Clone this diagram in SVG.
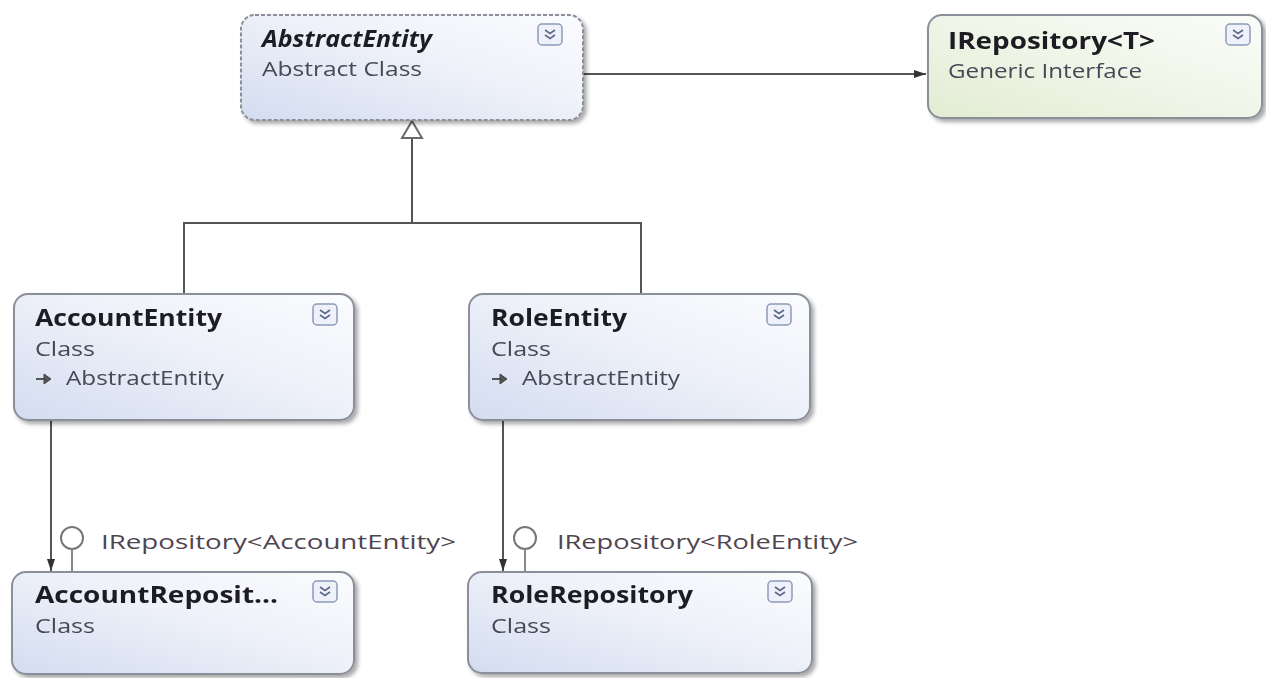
<svg xmlns="http://www.w3.org/2000/svg" width="1266" height="678" viewBox="0 0 1266 678">
  <defs>
    <linearGradient id="gClass" x1="0" y1="1" x2="1" y2="0">
      <stop offset="0" stop-color="#d3dcf0"/>
      <stop offset="0.55" stop-color="#eef1f9"/>
      <stop offset="1" stop-color="#fbfcfe"/>
    </linearGradient>
    <linearGradient id="gIface" x1="0" y1="1" x2="1" y2="0">
      <stop offset="0" stop-color="#e2ecd2"/>
      <stop offset="0.55" stop-color="#f1f6ea"/>
      <stop offset="1" stop-color="#fbfdf8"/>
    </linearGradient>
    <filter id="shadow" x="-5%" y="-5%" width="115%" height="120%">
      <feGaussianBlur in="SourceAlpha" stdDeviation="2"/>
      <feOffset dx="3" dy="3"/>
      <feComponentTransfer><feFuncA type="linear" slope="0.35"/></feComponentTransfer>
      <feMerge><feMergeNode/><feMergeNode in="SourceGraphic"/></feMerge>
    </filter>
    <marker id="arrow" viewBox="0 0 12 10" refX="12" refY="5" markerWidth="12" markerHeight="10" markerUnits="userSpaceOnUse" orient="auto">
      <path d="M0,1 L12,5 L0,9 z" fill="#333"/>
    </marker>
    <!-- collapse/expand toggle -->
    <g id="toggle">
      <rect x="0" y="0" width="24" height="21" rx="4" fill="#eef1f9" stroke="#8d9ab8" stroke-width="1.5"/>
      <polyline points="7,6 12,9.5 17,6" fill="none" stroke="#5b6888" stroke-width="1.6"/>
      <polyline points="7,11 12,14.5 17,11" fill="none" stroke="#5b6888" stroke-width="1.6"/>
    </g>
    <!-- base-class glyph -->
    <g id="inherits">
      <line x1="0" y1="0" x2="10" y2="0" stroke="#444" stroke-width="1.8"/>
      <path d="M8,-5 L15,0 L8,5 z" fill="#555" stroke="#444" stroke-width="1"/>
    </g>
  </defs>
  <style>
    .box { stroke: #8a8f9a; stroke-width: 2; }
    .cls { fill: url(#gClass); }
    .ifc { fill: url(#gIface); }
    .abs { stroke-dasharray: 4 2; }
    .title { font-family: "Open Sans", "Liberation Sans", sans-serif; font-weight: bold; font-size: 23px; fill: #1e1e24; }
    .sub { font-family: "Open Sans", "Liberation Sans", sans-serif; font-size: 20px; fill: #454a55; }
    .lbl { font-family: "Open Sans", "Liberation Sans", sans-serif; font-size: 20px; fill: #4f4550; }
    .conn { fill: none; stroke: #555; stroke-width: 2; }
  </style>

  <rect width="1266" height="678" fill="#ffffff"/>

  <!-- connectors -->
  <g id="connectors">
    <line class="conn" x1="584" y1="74" x2="926" y2="74" stroke="#333" marker-end="url(#arrow)"/>
    <path class="conn" d="M412,138 V223 M184,294 V223 H641 V294" stroke="#7a7a7a"/>
    <path d="M412,121 L422,138 L402,138 z" fill="#ffffff" stroke="#6a6a6a" stroke-width="2"/>
    <line class="conn" x1="51" y1="421" x2="51" y2="571" stroke="#333" marker-end="url(#arrow)"/>
    <line class="conn" x1="503" y1="421" x2="503" y2="571" stroke="#333" marker-end="url(#arrow)"/>
    <circle cx="72" cy="538" r="11" fill="#fff" stroke="#777" stroke-width="2"/>
    <line x1="72" y1="549" x2="72" y2="572" stroke="#888" stroke-width="2"/>
    <text class="lbl" x="101" y="549" textLength="355" lengthAdjust="spacingAndGlyphs">IRepository&lt;AccountEntity&gt;</text>
    <circle cx="525" cy="538" r="11" fill="#fff" stroke="#777" stroke-width="2"/>
    <line x1="525" y1="549" x2="525" y2="572" stroke="#888" stroke-width="2"/>
    <text class="lbl" x="557" y="549" textLength="301" lengthAdjust="spacingAndGlyphs">IRepository&lt;RoleEntity&gt;</text>
  </g>

  <g id="AbstractEntity" filter="url(#shadow)">
    <rect class="box cls abs" x="241" y="15" width="342" height="105" rx="14"/>
    <text class="title" x="262" y="47" font-style="italic" textLength="170" lengthAdjust="spacingAndGlyphs">AbstractEntity</text>
    <text class="sub" x="262" y="76" textLength="160" lengthAdjust="spacingAndGlyphs">Abstract Class</text>
    <use href="#toggle" x="538" y="24"/>
  </g>

  <g id="IRepositoryT" filter="url(#shadow)">
    <rect class="box ifc" x="928" y="15" width="334" height="103" rx="14"/>
    <text class="title" x="948" y="49" textLength="207" lengthAdjust="spacingAndGlyphs">IRepository&lt;T&gt;</text>
    <text class="sub" x="948" y="78" textLength="194" lengthAdjust="spacingAndGlyphs">Generic Interface</text>
    <use href="#toggle" x="1226" y="24"/>
  </g>

  <g id="AccountEntity" filter="url(#shadow)">
    <rect class="box cls" x="14" y="294" width="340" height="126" rx="14"/>
    <text class="title" x="35" y="326" textLength="187" lengthAdjust="spacingAndGlyphs">AccountEntity</text>
    <text class="sub" x="35" y="356" textLength="60" lengthAdjust="spacingAndGlyphs">Class</text>
    <use href="#inherits" x="36" y="379"/>
    <text class="sub" x="66" y="385" textLength="158" lengthAdjust="spacingAndGlyphs">AbstractEntity</text>
    <use href="#toggle" x="313" y="304"/>
  </g>

  <g id="RoleEntity" filter="url(#shadow)">
    <rect class="box cls" x="469" y="294" width="341" height="126" rx="14"/>
    <text class="title" x="491" y="326" textLength="136" lengthAdjust="spacingAndGlyphs">RoleEntity</text>
    <text class="sub" x="491" y="356" textLength="60" lengthAdjust="spacingAndGlyphs">Class</text>
    <use href="#inherits" x="492" y="379"/>
    <text class="sub" x="522" y="385" textLength="158" lengthAdjust="spacingAndGlyphs">AbstractEntity</text>
    <use href="#toggle" x="767" y="304"/>
  </g>

  <g id="AccountRepository" filter="url(#shadow)">
    <rect class="box cls" x="12" y="572" width="342" height="102" rx="14"/>
    <text class="title" x="35" y="603" textLength="243" lengthAdjust="spacingAndGlyphs">AccountReposit...</text>
    <text class="sub" x="35" y="633" textLength="60" lengthAdjust="spacingAndGlyphs">Class</text>
    <use href="#toggle" x="313" y="581"/>
  </g>

  <g id="RoleRepository" filter="url(#shadow)">
    <rect class="box cls" x="468" y="572" width="344" height="101" rx="14"/>
    <text class="title" x="491" y="603" textLength="202" lengthAdjust="spacingAndGlyphs">RoleRepository</text>
    <text class="sub" x="491" y="633" textLength="60" lengthAdjust="spacingAndGlyphs">Class</text>
    <use href="#toggle" x="768" y="581"/>
  </g>
</svg>
